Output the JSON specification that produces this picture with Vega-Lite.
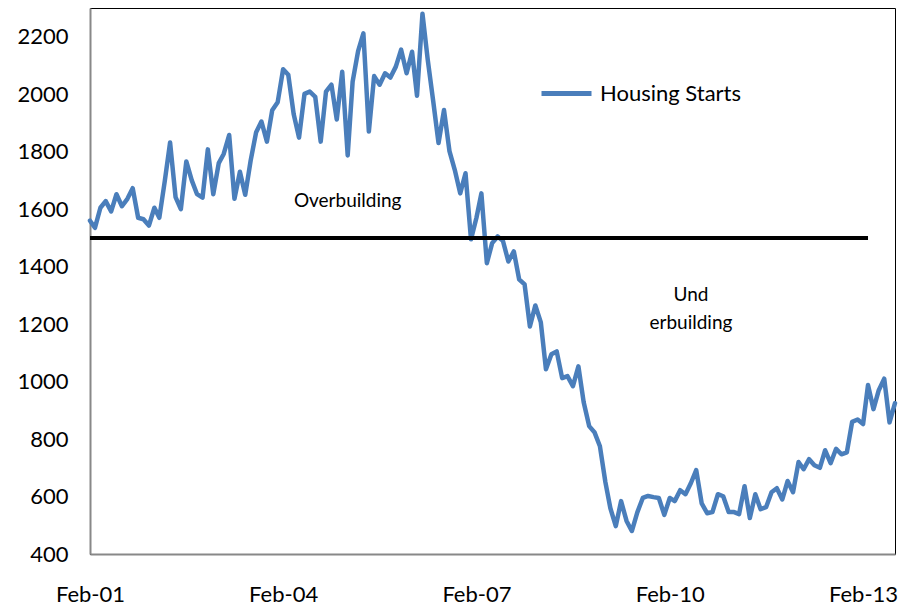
{
  "$schema": "https://vega.github.io/schema/vega-lite/v6.json",
  "width": 805,
  "height": 546,
  "autosize": {"type": "none"},
  "padding": {"left": 90, "top": 8, "right": 4, "bottom": 56},
  "background": "white",
  "config": {
    "view": {"stroke": "#000000", "strokeWidth": 1},
    "font": "Lato",
    "axis": {"grid": false, "ticks": false, "labelFont": "Lato", "labelFontSize": 22, "labelColor": "#000000", "domainColor": "#888888", "domainWidth": 2, "title": null},
    "legend": {"orient": "none", "legendX": 449, "legendY": 58, "symbolType": "stroke", "symbolSize": 2500, "symbolStrokeWidth": 5, "labelFont": "Lato", "labelFontSize": 22, "labelColor": "#000000", "labelOffset": 6, "title": null}
  },
  "layer": [
    {
      "data": {"values": [
        {"d":"2001-02-01","v":1560},{"d":"2001-03-01","v":1535},{"d":"2001-04-01","v":1605},{"d":"2001-05-01","v":1628},{"d":"2001-06-01","v":1592},{"d":"2001-07-01","v":1652},{"d":"2001-08-01","v":1610},{"d":"2001-09-01","v":1636},{"d":"2001-10-01","v":1673},{"d":"2001-11-01","v":1570},{"d":"2001-12-01","v":1565},
        {"d":"2002-01-01","v":1543},{"d":"2002-02-01","v":1605},{"d":"2002-03-01","v":1570},{"d":"2002-04-01","v":1698},{"d":"2002-05-01","v":1832},{"d":"2002-06-01","v":1642},{"d":"2002-07-01","v":1600},{"d":"2002-08-01","v":1766},{"d":"2002-09-01","v":1700},{"d":"2002-10-01","v":1652},{"d":"2002-11-01","v":1640},{"d":"2002-12-01","v":1808},
        {"d":"2003-01-01","v":1652},{"d":"2003-02-01","v":1760},{"d":"2003-03-01","v":1792},{"d":"2003-04-01","v":1858},{"d":"2003-05-01","v":1636},{"d":"2003-06-01","v":1730},{"d":"2003-07-01","v":1650},{"d":"2003-08-01","v":1770},{"d":"2003-09-01","v":1868},{"d":"2003-10-01","v":1905},{"d":"2003-11-01","v":1835},{"d":"2003-12-01","v":1944},
        {"d":"2004-01-01","v":1972},{"d":"2004-02-01","v":2087},{"d":"2004-03-01","v":2068},{"d":"2004-04-01","v":1930},{"d":"2004-05-01","v":1849},{"d":"2004-06-01","v":2001},{"d":"2004-07-01","v":2009},{"d":"2004-08-01","v":1991},{"d":"2004-09-01","v":1835},{"d":"2004-10-01","v":2009},{"d":"2004-11-01","v":2033},{"d":"2004-12-01","v":1912},
        {"d":"2005-01-01","v":2078},{"d":"2005-02-01","v":1787},{"d":"2005-03-01","v":2044},{"d":"2005-04-01","v":2150},{"d":"2005-05-01","v":2212},{"d":"2005-06-01","v":1870},{"d":"2005-07-01","v":2063},{"d":"2005-08-01","v":2033},{"d":"2005-09-01","v":2073},{"d":"2005-10-01","v":2058},{"d":"2005-11-01","v":2096},{"d":"2005-12-01","v":2155},
        {"d":"2006-01-01","v":2073},{"d":"2006-02-01","v":2148},{"d":"2006-03-01","v":1995},{"d":"2006-04-01","v":2280},{"d":"2006-05-01","v":2119},{"d":"2006-06-01","v":1975},{"d":"2006-07-01","v":1830},{"d":"2006-08-01","v":1945},{"d":"2006-09-01","v":1802},{"d":"2006-10-01","v":1737},{"d":"2006-11-01","v":1655},{"d":"2006-12-01","v":1725},
        {"d":"2007-01-01","v":1495},{"d":"2007-02-01","v":1570},{"d":"2007-03-01","v":1655},{"d":"2007-04-01","v":1412},{"d":"2007-05-01","v":1482},{"d":"2007-06-01","v":1505},{"d":"2007-07-01","v":1490},{"d":"2007-08-01","v":1418},{"d":"2007-09-01","v":1453},{"d":"2007-10-01","v":1356},{"d":"2007-11-01","v":1338},{"d":"2007-12-01","v":1192},
        {"d":"2008-01-01","v":1265},{"d":"2008-02-01","v":1206},{"d":"2008-03-01","v":1043},{"d":"2008-04-01","v":1095},{"d":"2008-05-01","v":1105},{"d":"2008-06-01","v":1012},{"d":"2008-07-01","v":1019},{"d":"2008-08-01","v":984},{"d":"2008-09-01","v":1053},{"d":"2008-10-01","v":928},{"d":"2008-11-01","v":845},{"d":"2008-12-01","v":824},
        {"d":"2009-01-01","v":775},{"d":"2009-02-01","v":650},{"d":"2009-03-01","v":560},{"d":"2009-04-01","v":497},{"d":"2009-05-01","v":584},{"d":"2009-06-01","v":515},{"d":"2009-07-01","v":480},{"d":"2009-08-01","v":545},{"d":"2009-09-01","v":595},{"d":"2009-10-01","v":602},{"d":"2009-11-01","v":598},{"d":"2009-12-01","v":595},
        {"d":"2010-01-01","v":536},{"d":"2010-02-01","v":595},{"d":"2010-03-01","v":584},{"d":"2010-04-01","v":622},{"d":"2010-05-01","v":608},{"d":"2010-06-01","v":647},{"d":"2010-07-01","v":692},{"d":"2010-08-01","v":576},{"d":"2010-09-01","v":542},{"d":"2010-10-01","v":546},{"d":"2010-11-01","v":608},{"d":"2010-12-01","v":601},
        {"d":"2011-01-01","v":546},{"d":"2011-02-01","v":546},{"d":"2011-03-01","v":539},{"d":"2011-04-01","v":636},{"d":"2011-05-01","v":525},{"d":"2011-06-01","v":608},{"d":"2011-07-01","v":556},{"d":"2011-08-01","v":563},{"d":"2011-09-01","v":615},{"d":"2011-10-01","v":629},{"d":"2011-11-01","v":590},{"d":"2011-12-01","v":654},
        {"d":"2012-01-01","v":615},{"d":"2012-02-01","v":720},{"d":"2012-03-01","v":695},{"d":"2012-04-01","v":730},{"d":"2012-05-01","v":709},{"d":"2012-06-01","v":700},{"d":"2012-07-01","v":761},{"d":"2012-08-01","v":716},{"d":"2012-09-01","v":766},{"d":"2012-10-01","v":747},{"d":"2012-11-01","v":754},{"d":"2012-12-01","v":860},
        {"d":"2013-01-01","v":868},{"d":"2013-02-01","v":852},{"d":"2013-03-01","v":988},{"d":"2013-04-01","v":904},{"d":"2013-05-01","v":970},{"d":"2013-06-01","v":1010},{"d":"2013-07-01","v":858},{"d":"2013-08-01","v":925}
      ]},
      "mark": {"type": "line", "strokeWidth": 4.5, "strokeJoin": "round", "strokeCap": "round"},
      "encoding": {
        "x": {"field": "d", "type": "temporal",
          "scale": {"type": "utc", "domain": [{"year": 2001, "month": 2, "date": 1, "utc": true}, {"year": 2013, "month": 8, "date": 1, "utc": true}]},
          "axis": {"format": "%b-%y", "labelPadding": 30, "labelFlush": false, "labelOverlap": false,
            "values": [{"year": 2001, "month": 2, "date": 1, "utc": true}, {"year": 2004, "month": 2, "date": 1, "utc": true}, {"year": 2007, "month": 2, "date": 1, "utc": true}, {"year": 2010, "month": 2, "date": 1, "utc": true}, {"year": 2013, "month": 2, "date": 1, "utc": true}]}},
        "y": {"field": "v", "type": "quantitative",
          "scale": {"domain": [400, 2300], "nice": false, "zero": false},
          "axis": {"values": [400, 600, 800, 1000, 1200, 1400, 1600, 1800, 2000, 2200], "format": "d", "labelPadding": 22, "labelFlush": false}},
        "color": {"datum": "Housing Starts", "type": "nominal", "scale": {"range": ["#4A7EBB"]}}
      }
    },
    {
      "data": {"values": [{"d": "2001-02-01", "d2": "2013-03-01", "v": 1500}]},
      "mark": {"type": "rule", "color": "#000000", "strokeWidth": 4},
      "encoding": {
        "x": {"field": "d", "type": "temporal"},
        "x2": {"field": "d2"},
        "y": {"field": "v", "type": "quantitative"}
      }
    },
    {
      "data": {"values": [
        {"d": "2005-02-01", "v": 1630, "t": "Overbuilding"},
        {"d": "2010-06-01", "v": 1300, "t": "Und"},
        {"d": "2010-06-01", "v": 1205, "t": "erbuilding"}
      ]},
      "mark": {"type": "text", "font": "Lato", "fontSize": 19, "color": "#000000", "align": "center", "baseline": "middle"},
      "encoding": {
        "x": {"field": "d", "type": "temporal"},
        "y": {"field": "v", "type": "quantitative"},
        "text": {"field": "t"}
      }
    }
  ]
}
